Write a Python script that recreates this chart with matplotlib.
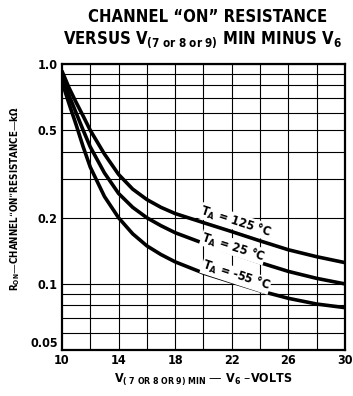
import numpy as np
import matplotlib
matplotlib.use('Agg')
import matplotlib.pyplot as plt
from matplotlib.ticker import FixedLocator, NullFormatter

# values
v_diff = [10, 10.5, 11, 11.5, 12, 13, 14, 15, 16, 17, 18, 20, 22, 24, 26, 28, 30]
r_125 = [0.93, 0.78, 0.67, 0.58, 0.50, 0.39, 0.315, 0.27, 0.242, 0.223, 0.209, 0.19, 0.173, 0.157, 0.143, 0.133, 0.125]
r_25 = [0.88, 0.72, 0.60, 0.50, 0.42, 0.32, 0.258, 0.223, 0.20, 0.184, 0.171, 0.153, 0.138, 0.125, 0.114, 0.106, 0.100]
r_m55 = [0.83, 0.66, 0.53, 0.42, 0.34, 0.25, 0.20, 0.169, 0.149, 0.136, 0.126, 0.112, 0.102, 0.093, 0.086, 0.081, 0.078]

labels = ['T$_A$ = 125 °C', 'T$_A$ = 25 °C', 'T$_A$ = -55 °C']
label_pos = [(22.3, 0.192), (22.1, 0.147), (22.3, 0.109)]

x_ticks = [10, 14, 18, 22, 26, 30]
y_ticks = [0.05, 0.1, 0.2, 0.5, 1.0]
y_tick_labels = ['0.05', '0.1', '0.2', '0.5', '1.0']
y_grid = [0.05, 0.06, 0.07, 0.08, 0.09, 0.1, 0.2, 0.3, 0.4, 0.5, 0.6, 0.7, 0.8, 0.9, 1.0]

plt.rcParams['font.family'] = 'DejaVu Sans'
plt.rcParams['font.stretch'] = 'condensed'
plt.rcParams['mathtext.default'] = 'regular'

fig = plt.figure(figsize=(3.53, 3.96), dpi=100)
ax = fig.add_axes([0.1756, 0.116, 0.8015, 0.722])

for r in [r_125, r_25, r_m55]:
    ax.plot(v_diff, r, color='black', lw=2.6, solid_capstyle='round')

ax.set_yscale('log')
ax.set_xlim(10, 30)
ax.set_ylim(0.05, 1.0)

# grid like the log paper
for g in y_grid:
    ax.axhline(g, color='black', lw=0.8, zorder=0)
for g in range(12, 30, 2):
    ax.axvline(g, color='black', lw=0.8, zorder=0)

ax.yaxis.set_major_locator(FixedLocator(y_ticks))
ax.yaxis.set_minor_locator(FixedLocator([]))
ax.yaxis.set_minor_formatter(NullFormatter())
ax.set_yticklabels(y_tick_labels)
ax.set_xticks(x_ticks)
ax.tick_params(length=0)
ax.tick_params(axis='x', pad=3)
ax.tick_params(axis='y', pad=3)
for t in ax.get_xticklabels() + ax.get_yticklabels():
    t.set_fontweight('bold')
    t.set_fontsize(9)
ax.get_yticklabels()[0].set_va('bottom')
for sp in ax.spines.values():
    sp.set_linewidth(1.6)

for txt, (x, y) in zip(labels, label_pos):
    ax.text(x, y, txt, rotation=-18, ha='center', va='center',
            fontweight='bold', fontsize=9, rotation_mode='anchor',
            bbox=dict(facecolor='white', edgecolor='none', pad=0.3))

fig.text(0.587, 0.957, 'CHANNEL \u201cON\u201d RESISTANCE', ha='center', va='center',
         fontweight='heavy', fontsize=12)
fig.text(0.573, 0.899, 'VERSUS V$_{(7\\ or\\ 8\\ or\\ 9)}$ MIN MINUS V$_6$', ha='center', va='center',
         fontweight='heavy', fontsize=12)

fig.text(0.043, 0.5, 'R$_{ON}$\u2014CHANNEL\u201cON\u201dRESISTANCE\u2014k\u03a9', rotation=90,
         ha='center', va='center', fontweight='bold', fontsize=7)
fig.text(0.575, 0.04, 'V$_{(\\ 7\\ OR\\ 8\\ OR\\ 9)\\ MIN}$ \u2014 V$_6$ \u2013VOLTS', ha='center',
         va='center', fontweight='bold', fontsize=9)

fig.savefig('out.png', dpi=100)
